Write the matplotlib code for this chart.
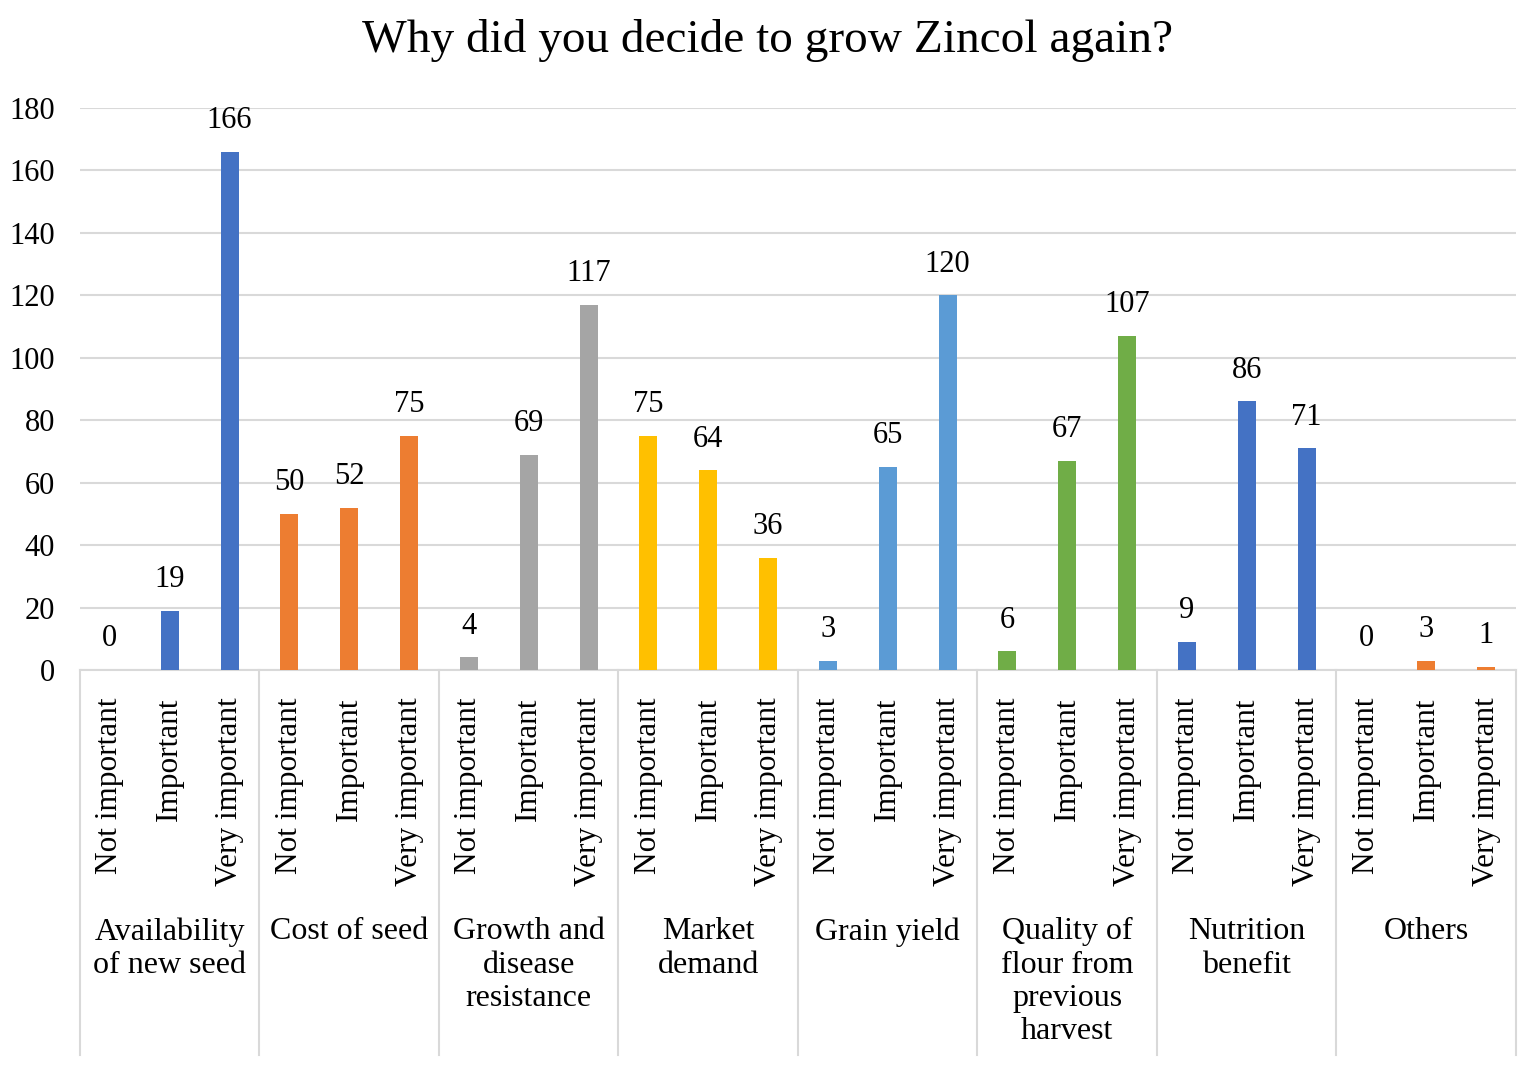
import matplotlib
matplotlib.use("Agg")
import matplotlib.pyplot as plt
import matplotlib.transforms as mtransforms

plt.rcParams['font.family'] = ['Liberation Serif', 'DejaVu Serif']

groups = ["Availability\nof new seed", "Cost of seed", "Growth and\ndisease\nresistance",
          "Market\ndemand", "Grain yield", "Quality of\nflour from\nprevious\nharvest",
          "Nutrition\nbenefit", "Others"]
levels = ["Not important", "Important", "Very important"]
counts = [
    [0, 19, 166],
    [50, 52, 75],
    [4, 69, 117],
    [75, 64, 36],
    [3, 65, 120],
    [6, 67, 107],
    [9, 86, 71],
    [0, 3, 1],
]
colors = ["#4472C4", "#ED7D31", "#A5A5A5", "#FFC000", "#5B9BD5", "#70AD47", "#4472C4", "#ED7D31"]

fig = plt.figure(figsize=(15.35, 10.74), dpi=100)
ax = fig.add_axes([0.0521, 0.3762, 0.9355, 0.5232])

xs, vals, cols, ticks = [], [], [], []
for g, row in enumerate(counts):
    for k, v in enumerate(row):
        xs.append(g * 3 + k)
        vals.append(v)
        cols.append(colors[g])
        ticks.append(levels[k])

bars = ax.bar(xs, vals, width=0.3, color=cols, zorder=3)
for x, v in zip(xs, vals):
    ax.annotate(str(v), (x, v), xytext=(0, 12), textcoords="offset points",
                ha="center", va="bottom", fontsize=22)

ax.set_ylim(0, 180)
ax.set_yticks(range(0, 181, 20))
ax.set_xlim(-0.5, len(xs) - 0.5)
ax.set_xticks(xs)
ax.set_xticklabels(ticks, rotation=90, fontsize=22.5)
ax.tick_params(axis="x", length=0, pad=20)
ax.tick_params(axis="y", length=0, labelsize=22, pad=18)
ax.grid(axis="y", color="#D9D9D9", linewidth=1.5, zorder=0)
for s in ["top", "right", "left"]:
    ax.spines[s].set_visible(False)
ax.spines["bottom"].set_color("#D9D9D9")
ax.spines["bottom"].set_linewidth(1.5)

trans = mtransforms.blended_transform_factory(ax.transData, ax.transAxes)
for g in range(len(groups) + 1):
    ax.plot([g * 3 - 0.5, g * 3 - 0.5], [0, -0.685], transform=trans,
            color="#D9D9D9", linewidth=1.5, clip_on=False)
for g, name in enumerate(groups):
    ax.text(g * 3 + 1, -0.44, name, transform=trans, ha="center", va="top",
            fontsize=23, linespacing=1.2)

fig.suptitle("Why did you decide to grow Zincol again?", fontsize=34, y=0.982)
fig.savefig("out.png", dpi=100, facecolor="white")
